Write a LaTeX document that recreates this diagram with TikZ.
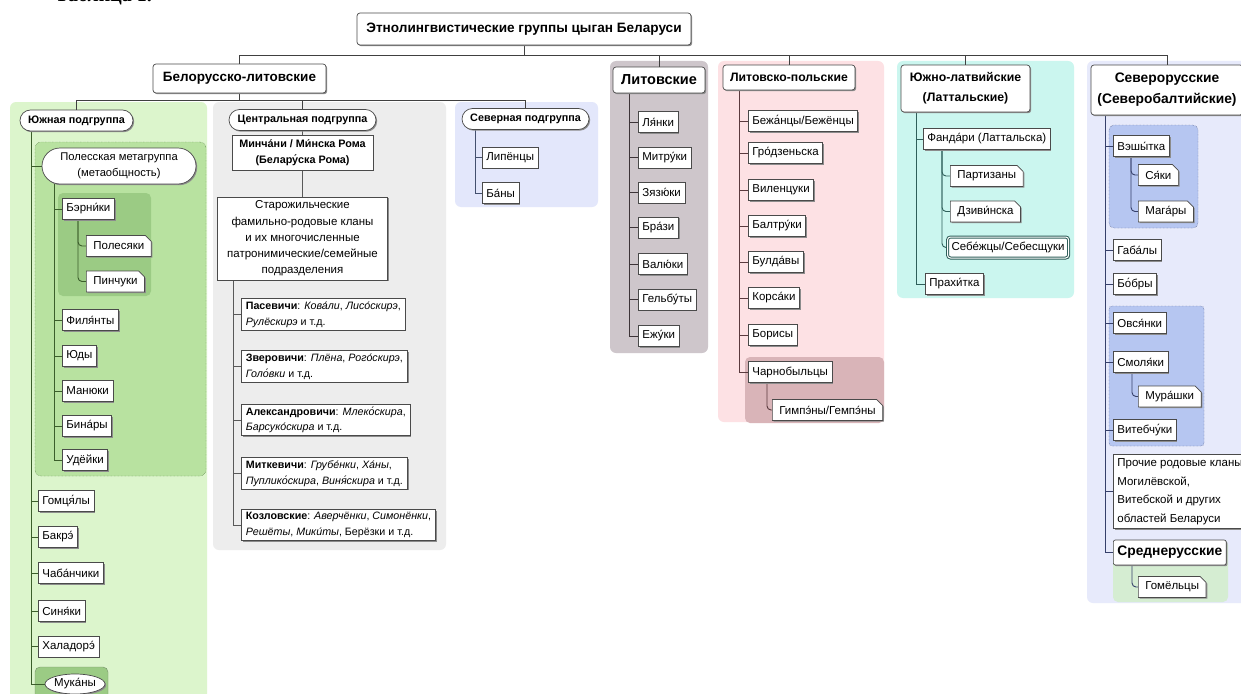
\documentclass[tikz,border=0pt]{standalone}
\usepackage{fontspec}
\setmainfont{Liberation Sans}
\newfontfamily\tabfont{Liberation Serif}
\usetikzlibrary{shapes.misc,shapes.geometric,shadows,calc}
\pgfdeclarelayer{bg}
\pgfdeclarelayer{ln}
\pgfsetlayers{bg,ln,main}
\definecolor{gBg}{HTML}{DCF5CC}
\definecolor{gMid}{HTML}{B8E2A0}
\definecolor{gDark}{HTML}{9BCB84}
\definecolor{gLine}{HTML}{3B5E2B}
\definecolor{cBg}{HTML}{EDEDED}
\definecolor{bBg}{HTML}{E3E7FB}
\definecolor{ltBg}{HTML}{CEC6CB}
\definecolor{pBg}{HTML}{FDE1E4}
\definecolor{pDark}{HTML}{D9B4B8}
\definecolor{cyBg}{HTML}{CBF6EF}
\definecolor{srBg}{HTML}{E7EAFB}
\definecolor{srMid}{HTML}{B6C6F1}
\definecolor{srLine}{HTML}{36406A}
\definecolor{mrBg}{HTML}{D5EDD2}
\definecolor{edge}{HTML}{4A4A4A}
\definecolor{cyLine}{HTML}{2F5F5A}
\definecolor{pLine}{HTML}{5A3A3E}
\definecolor{ltLine}{HTML}{3D3438}
\definecolor{bLine}{HTML}{44506E}
\tikzset{
  base/.style={draw=edge, fill=white, line width=0.7pt,
    font=\fontsize{11.5}{13}\selectfont, inner xsep=4pt, inner ysep=2pt,
    minimum height=21pt,
    drop shadow={shadow xshift=1.2pt, shadow yshift=-1.2pt, fill=black!45, opacity=1}},
  lab/.style={base, rectangle, anchor=west},
  note/.style={base, chamfered rectangle, chamfered rectangle corners=north east,
    chamfered rectangle xsep=3pt, chamfered rectangle ysep=3pt, anchor=west},
  hdr/.style={base, rectangle, rounded corners=3pt, align=center},
  pill/.style={base, rounded rectangle, font=\bfseries\fontsize{10.8}{12}\selectfont, minimum height=21pt},
  cl/.style={base, rectangle, anchor=west, align=left, font=\fontsize{10.7}{15.5}\selectfont,
    inner ysep=3pt, inner xsep=4.5pt},
  conn/.style={draw=#1, line width=0.9pt},
  l0/.style={conn=black!75},
  lg/.style={conn=gLine},
  lc/.style={conn=black!65},
  lb/.style={conn=bLine},
  llt/.style={conn=ltLine},
  lp/.style={conn=pLine},
  lcy/.style={conn=cyLine},
  lsr/.style={conn=srLine},
}
\begin{document}
\begin{tikzpicture}[x=1pt,y=-1pt]
\useasboundingbox (0,0) rectangle (1241,693);

% panels
\begin{pgfonlayer}{bg}
\fill[white] (0,0) rectangle (1241,693);
\fill[gBg, rounded corners=6pt] (10,102) rectangle (207,705);
\fill[cBg, rounded corners=6pt] (213,102) rectangle (446,550);
\fill[bBg, rounded corners=6pt] (455,102) rectangle (598,207);
\fill[ltBg, rounded corners=6pt] (610,61) rectangle (708,353);
\fill[pBg, rounded corners=6pt] (718,61) rectangle (884,422);
\fill[cyBg, rounded corners=6pt] (897,61) rectangle (1074,298);
\fill[srBg, rounded corners=6pt] (1087,61) rectangle (1255,603);
\filldraw[fill=gMid, draw=gLine, densely dotted, rounded corners=6pt] (35,142) rectangle (206,476);
\fill[gDark, rounded corners=5pt] (58,193) rectangle (151,296);
\filldraw[fill=gDark, draw=gLine!70, rounded corners=5pt] (35,667) rectangle (108,705);
\fill[pDark, rounded corners=5pt] (745,357) rectangle (884,423);
\filldraw[fill=srMid, draw=srLine, densely dotted, rounded corners=5pt] (1109,125) rectangle (1198,228);
\filldraw[fill=srMid, draw=srLine, densely dotted, rounded corners=3pt] (1109,306) rectangle (1204,446);
\fill[mrBg, rounded corners=5pt] (1113,540) rectangle (1228,602);
\end{pgfonlayer}

\node[anchor=base west, font=\tabfont\bfseries\fontsize{20}{24}\selectfont, inner sep=0pt] (TAB) at (55,1.5) {Таблица 1.};

% top level
\node[hdr, minimum width=334pt, minimum height=32pt, font=\bfseries\fontsize{13.6}{15}\selectfont] (T) at (524,29) {Этнолингвистические группы цыган Беларуси};
\node[hdr, minimum width=173pt, minimum height=29pt, font=\bfseries\fontsize{13.5}{15}\selectfont] (BL) at (239.5,78.5) {Белорусско-литовские};
\node[hdr, minimum width=92pt, minimum height=26pt, font=\bfseries\fontsize{14.5}{16}\selectfont] (LT) at (659,80) {Литовские};
\node[hdr, minimum width=132pt, minimum height=25pt, font=\bfseries\fontsize{12.2}{14}\selectfont] (LP) at (789,77.5) {Литовско-польские};
\node[hdr, minimum width=129pt, minimum height=47pt, font=\bfseries\fontsize{12.3}{20}\selectfont] (UL) at (965.5,88.5) {Южно-латвийские\\(Латтальские)};
\node[hdr, minimum width=152pt, minimum height=50pt, font=\bfseries\fontsize{13.8}{21}\selectfont] (SR) at (1167,90) {Северорусские\\(Северобалтийские)};

% subgroups
\node[pill, minimum width=121pt] (SUD) at (76.5,120.5) {Южная подгруппа};
\node[pill, minimum width=155pt] (CEN) at (302.5,120) {Центральная подгруппа};
\node[pill, minimum width=135pt] (NOR) at (525.5,119) {Северная подгруппа};

% southern
\node[pill, font=\fontsize{11.2}{16}\selectfont, minimum width=162pt, minimum height=36pt, align=center] (POL) at (119,166) {Полесская метагруппа\\(метаобщность)};
\node[lab] (BER) at (62,209) {Бэрни́ки};
\node[note] (PLS) at (86,246) {Полесяки};
\node[note] (PIN) at (86,281.5) {Пинчуки};
\node[lab] (FIL) at (62,320) {Филя́нты};
\node[lab] (YUD) at (62,356) {Юды};
\node[lab] (MAN) at (62,391) {Манюки};
\node[lab] (BIN) at (62,426) {Бина́ры};
\node[lab] (UDE) at (62,460) {Удёйки};
\node[lab] (GOM) at (38,501) {Гомця́лы};
\node[lab] (BAK) at (38,537) {Бакрэ́};
\node[lab] (CHA) at (38,573) {Чаба́нчики};
\node[lab] (SIN) at (38,611) {Синя́ки};
\node[lab] (HAL) at (38,646.5) {Халадорэ́};
\node[base, ellipse, minimum width=60pt, minimum height=20pt, inner sep=0pt] (MUK) at (75,684) {Мука́ны};

% central
\node[hdr, rounded corners=0pt, font=\bfseries\fontsize{10.8}{15.5}\selectfont, minimum width=141pt, minimum height=35pt] (MIN) at (302.5,152.5) {Минча́ни / Ми́нска Рома\\(Белару́ска Рома)};
\node[base, rectangle, align=center, font=\fontsize{11.5}{16.3}\selectfont, minimum width=170pt, minimum height=83pt] (STA) at (302.5,238.5) {Старожильческие\\фамильно-родовые кланы\\и их многочисленные\\патронимические/семейные\\подразделения};
\node[cl] (PAS) at (241,314.5) {\textbf{Пасевичи}: \textit{Кова́ли}, \textit{Лисо́скирэ},\\\textit{Рулёскирэ} и т.д.};
\node[cl] (ZVE) at (241,366.5) {\textbf{Зверовичи}: \textit{Плёна}, \textit{Рого́скирэ},\\\textit{Голо́вки} и т.д.};
\node[cl] (ALE) at (241,420) {\textbf{Александровичи}: \textit{Млеко́скира},\\\textit{Барсуко́скира} и т.д.};
\node[cl] (MIT) at (241,473.5) {\textbf{Миткевичи}: \textit{Грубе́нки}, \textit{Ха́ны},\\\textit{Пуплико́скира}, \textit{Виня́скира} и т.д.};
\node[cl] (KOZ) at (241,525) {\textbf{Козловские}: \textit{Аверчёнки}, \textit{Симонёнки},\\\textit{Решёты}, \textit{Мики́ты}, Берёзки и т.д.};

% northern
\node[lab] (LIP) at (482,157.5) {Липёнцы};
\node[lab] (BAN) at (482,193) {Ба́ны};

% lithuanian
\node[lab] (LAN) at (638,122) {Ля́нки};
\node[lab] (MITR) at (638,157.5) {Митру́ки};
\node[lab] (ZYA) at (638,192.5) {Зязю́ки};
\node[lab] (BRA) at (638,227.5) {Бра́зи};
\node[lab] (VAL) at (638,264) {Валю́ки};
\node[lab] (GEL) at (638,299.5) {Гельбу́ты};
\node[lab] (EZH) at (638,336) {Ежу́ки};

% lithuanian-polish
\node[lab] (BEZ) at (748,121) {Бежа́нцы/Бежёнцы};
\node[lab] (GRO) at (748,153) {Гро́дзеньска};
\node[lab] (VIL) at (748,190) {Виленцуки};
\node[lab] (BAL) at (748,226) {Балтру́ки};
\node[lab] (BUL) at (748,262) {Булда́вы};
\node[lab] (KOR) at (748,298) {Корса́ки};
\node[lab] (BOR) at (748,335) {Борисы};
\node[lab] (CHR) at (748,372) {Чарнобыльцы};
\node[note] (GIM) at (772,410) {Гимпэ́ны/Гемпэ́ны};

% south latvian
\node[lab] (FAN) at (923,139) {Фанда́ри (Латтальска)};
\node[note] (PAR) at (950,176) {Партизаны};
\node[note] (DZV) at (950,211.5) {Дзиви́нска};
\node[lab, draw=cyLine, line width=1pt, double=white, double distance=1pt, rounded corners=3pt] (SEB) at (947,247.5) {Себе́жцы/Себесщуки};
\node[lab] (PRA) at (925,284) {Прахи́тка};

% north russian
\node[lab] (VES) at (1113,146) {Вэшы́тка};
\node[note] (SYA) at (1138,175) {Ся́ки};
\node[note] (MAG) at (1138,211.5) {Мага́ры};
\node[lab] (GAB) at (1113,250) {Габа́лы};
\node[lab] (BOB) at (1113,284) {Бо́бры};
\node[lab] (OVS) at (1113,323) {Овся́нки};
\node[lab] (SMO) at (1113,362) {Смоля́ки};
\node[note] (MUR) at (1138,396.5) {Мура́шки};
\node[lab] (VIT) at (1113,430) {Витебчу́ки};
\node[lab, align=left, font=\fontsize{11.5}{18.5}\selectfont, inner ysep=4pt] (PRO) at (1113,491.5) {Прочие родовые кланы\\Могилёвской,\\Витебской и других\\областей Беларуси};
\node[lab, rounded corners=2pt, font=\bfseries\fontsize{13.8}{15}\selectfont, minimum height=25pt] (SRR) at (1113,552.5) {Среднерусские};
\node[note] (GOME) at (1138,587) {Гомёльцы};

% connectors
\begin{pgfonlayer}{ln}
\coordinate (jT) at ([yshift=-10pt]T.south);
\draw[l0] (T.south) -- (jT);
\draw[l0] (BL.north) -- (BL.north |- jT) -- (SR.north |- jT) -- (SR.north);
\foreach \n in {LT,LP,UL} \draw[l0] (\n.north) -- (\n.north |- jT);

\coordinate (jB) at ([yshift=-7pt]BL.south);
\draw[l0] (BL.south) -- (jB);
\draw[l0] (SUD.north) -- (SUD.north |- jB) -- (NOR.north |- jB) -- (NOR.north);
\draw[l0] (CEN.north) -- (CEN.north |- jB);

\coordinate (tS) at ([xshift=-45.5pt]SUD.south);
\draw[lg] (tS) |- (MUK.west);
\foreach \n in {POL,GOM,BAK,CHA,SIN,HAL} \draw[lg] (\n.west) -- (\n.west -| tS);
\coordinate (tP) at ([xshift=-65pt]POL.south);
\draw[lg] (tP) |- (UDE.west);
\foreach \n in {BER,FIL,YUD,MAN,BIN} \draw[lg] (\n.west) -- (\n.west -| tP);
\coordinate (tB) at ([xshift=16pt]BER.south west);
\draw[lg, rounded corners=4pt] (tB) |- (PIN.west);
\draw[lg, rounded corners=4pt] (tB) |- (PLS.west);

\draw[lc] (CEN.south) -- (MIN.north);
\draw[lc] (MIN.south) -- (STA.north);
\coordinate (tC) at ([xshift=16pt]STA.south west);
\draw[lc] (tC) |- (KOZ.west);
\foreach \n in {PAS,ZVE,ALE,MIT} \draw[lc] (\n.west) -- (\n.west -| tC);

\coordinate (tN) at ([xshift=-50.5pt]NOR.south);
\draw[lb] (tN) |- (BAN.west);
\draw[lb] (LIP.west) -- (LIP.west -| tN);

\coordinate (tL) at ([xshift=17pt]LT.south west);
\draw[llt] (tL) |- (EZH.west);
\foreach \n in {LAN,MITR,ZYA,BRA,VAL,GEL} \draw[llt] (\n.west) -- (\n.west -| tL);

\coordinate (tLP) at ([xshift=17pt]LP.south west);
\draw[lp] (tLP) |- (CHR.west);
\foreach \n in {BEZ,GRO,VIL,BAL,BUL,KOR,BOR} \draw[lp] (\n.west) -- (\n.west -| tLP);
\coordinate (tCH) at ([xshift=19pt]CHR.south west);
\draw[lp, rounded corners=4pt] (tCH) |- (GIM.west);

\coordinate (tU) at ([xshift=16pt]UL.south west);
\draw[lcy] (tU) |- (PRA.west);
\draw[lcy] (FAN.west) -- (FAN.west -| tU);
\coordinate (tF) at ([xshift=19pt]FAN.south west);
\draw[lcy, rounded corners=4pt] (tF) |- (SEB.west);
\draw[lcy, rounded corners=4pt] (tF) |- (PAR.west);
\draw[lcy, rounded corners=4pt] (tF) |- (DZV.west);

\coordinate (tR) at ([xshift=15pt]SR.south west);
\draw[lsr] (tR) |- (SRR.west);
\foreach \n in {VES,GAB,BOB,OVS,SMO,VIT,PRO} \draw[lsr] (\n.west) -- (\n.west -| tR);
\coordinate (tV) at ([xshift=18pt]VES.south west);
\draw[lsr, rounded corners=4pt] (tV) |- (SYA.west);
\draw[lsr, rounded corners=4pt] (tV) |- (MAG.west);
\coordinate (tM) at ([xshift=19pt]SMO.south west);
\draw[lsr, rounded corners=4pt] (tM) |- (MUR.west);
\coordinate (tG) at ([xshift=19pt]SRR.south west);
\draw[lsr, rounded corners=4pt] (tG) |- (GOME.west);
\end{pgfonlayer}
\end{tikzpicture}
\end{document}
